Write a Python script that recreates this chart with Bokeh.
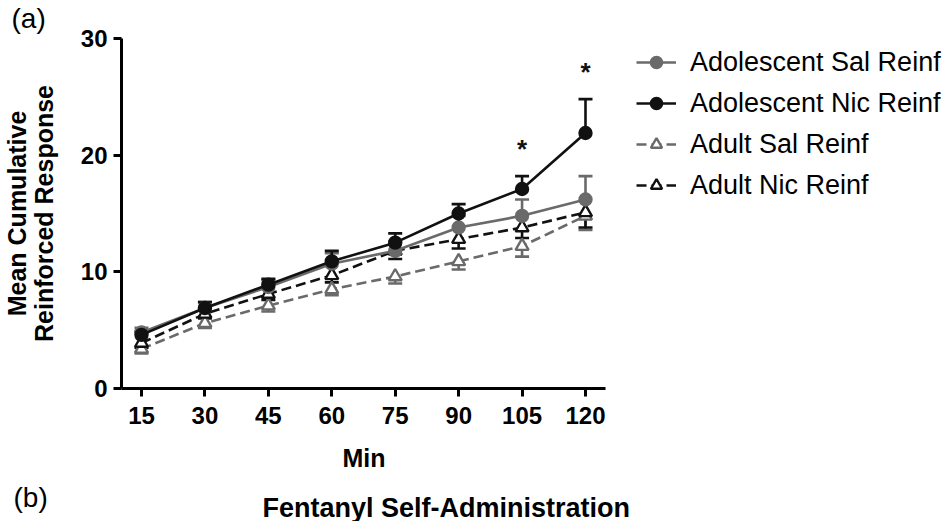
from bokeh.plotting import figure
from bokeh.models import (ColumnDataSource, Whisker, TeeHead, Legend, LegendItem,
                          FixedTicker, Range1d, Title)
from bokeh.core.properties import value
from bokeh.embed import file_html
from bokeh.resources import INLINE

# ---------------- data ----------------
minutes = [15, 30, 45, 60, 75, 90, 105, 120]
adol_sal = [4.8, 6.9, 8.7, 10.7, 11.8, 13.8, 14.8, 16.2]
adol_sal_err = [0.4, 0.5, 0.6, 0.9, 0.8, 1.0, 1.4, 2.0]
adol_nic = [4.6, 6.9, 8.9, 10.9, 12.5, 15.0, 17.1, 21.9]
adol_nic_err = [0.3, 0.5, 0.5, 0.9, 0.8, 0.8, 1.1, 2.9]
adult_sal = [3.4, 5.6, 7.1, 8.5, 9.6, 10.9, 12.2, 14.8]
adult_sal_err = [0.4, 0.4, 0.5, 0.5, 0.6, 0.7, 0.9, 1.2]
adult_nic = [3.9, 6.4, 8.1, 9.7, 11.8, 12.8, 13.8, 15.1]
adult_nic_err = [0.4, 0.4, 0.5, 0.6, 0.7, 0.8, 0.9, 1.3]
series_names = ["Adolescent Sal Reinf", "Adolescent Nic Reinf",
                "Adult Sal Reinf", "Adult Nic Reinf"]
y_ticks = [0, 10, 20, 30]
sig_minutes = [105, 120]
panel_labels = ["(a)", "(b)"]
x_title = "Min"
y_title = "Mean Cumulative\nReinforced Response"
subtitle = "Fentanyl Self-Administration"

FONT = "Liberation Sans"
GRAY = "#6a6a6a"
BLACK = "#111111"

W, H = 946, 521
FL, FR, FT, FB = 121, 946, 37, 388      # frame edges (px)
AX_END = 605                             # where the x axis line stops
X_START, X_AXIS_END = 10.27, 124.73
px_per_min = (AX_END - FL) / (X_AXIS_END - X_START)
X_END = X_START + (FR - FL) / px_per_min

p = figure(width=W, height=H, output_backend="svg", toolbar_location=None,
           x_range=Range1d(X_START, X_END), y_range=Range1d(0, 30),
           min_border_left=FL, min_border_right=W - FR,
           min_border_top=FT, min_border_bottom=H - FB)
p.outline_line_color = None
p.grid.visible = False
p.background_fill_color = "white"
p.border_fill_color = "white"

for ax in (p.xaxis[0], p.yaxis[0]):
    ax.axis_line_width = 3
    ax.axis_line_color = "black"
    ax.major_tick_line_width = 3
    ax.major_tick_line_color = "black"
    ax.major_tick_out = 8
    ax.major_tick_in = 0
    ax.minor_tick_line_color = None
    ax.major_label_text_font = FONT
    ax.major_label_text_font_style = "bold"
    ax.major_label_text_font_size = "24px"
    ax.major_label_text_color = "black"
    ax.axis_label_text_font = FONT
    ax.axis_label_text_font_style = "bold"
    ax.axis_label_text_font_size = "25px"
    ax.axis_label_text_color = "black"

p.xaxis.bounds = (X_START, X_AXIS_END)
p.xaxis.ticker = FixedTicker(ticks=minutes)
p.yaxis.ticker = FixedTicker(ticks=y_ticks)
p.xaxis.major_label_standoff = 10
p.yaxis.axis_label = y_title
p.yaxis.axis_label_text_line_height = 0.95
p.yaxis.major_label_standoff = 6
p.yaxis.axis_label_standoff = 20


def series(vals, errs, color, marker, dashed, up):
    src = ColumnDataSource(dict(
        x=minutes, y=vals,
        hi=[v + e for v, e in zip(vals, errs)] if up else vals,
        lo=vals if up else [v - e for v, e in zip(vals, errs)]))
    line = p.line("x", "y", source=src, line_color=color, line_width=2.6,
                  line_dash="10 5" if dashed else "solid")
    fill = "white" if marker == "triangle" else color
    sc = p.scatter("x", "y", source=src, marker=marker,
                   size=13 if marker == "triangle" else 12,
                   fill_color=fill, line_color=color, line_width=2.4)
    head = TeeHead(size=14, line_color=color, line_width=2.6)
    wh = Whisker(source=src, base="x", upper="hi", lower="lo",
                 line_color=color, line_width=2.6,
                 upper_head=head if up else None,
                 lower_head=None if up else head)
    p.add_layout(wh)
    return [line, sc]

r_as = series(adult_sal, adult_sal_err, GRAY, "triangle", True, False)
r_an = series(adult_nic, adult_nic_err, BLACK, "triangle", True, False)
r_ds = series(adol_sal, adol_sal_err, GRAY, "circle", False, True)
r_dn = series(adol_nic, adol_nic_err, BLACK, "circle", False, True)

# significance stars above Adolescent Nic error bars
idx = [minutes.index(m) for m in sig_minutes]
star_src = ColumnDataSource(dict(
    x=sig_minutes,
    y=[adol_nic[i] + adol_nic_err[i] + 2.3 for i in idx],
    t=["*"] * len(sig_minutes)))
p.text("x", "y", text="t", source=star_src, text_font=value(FONT),
       text_font_style="bold", text_font_size="26px", text_color=BLACK,
       text_align="center", text_baseline="middle")

# legend lives inside the (extended) frame, right of the axis end
LEG_H = 4 * 31 + 3 * 10
legend = Legend(items=[
    LegendItem(label=series_names[0], renderers=r_ds),
    LegendItem(label=series_names[1], renderers=r_dn),
    LegendItem(label=series_names[2], renderers=r_as),
    LegendItem(label=series_names[3], renderers=r_an),
], location=(636 - FL, FB - (46.5 + LEG_H)), border_line_color=None,
    background_fill_alpha=0, padding=0, margin=0, spacing=10,
    glyph_width=40, glyph_height=28, label_height=28, label_standoff=14,
    label_text_font=FONT, label_text_font_size="27px", label_text_color="black")
p.add_layout(legend)

p.add_layout(Title(text=panel_labels[0], align="left", offset=11 - FL,
                   vertical_align="top", standoff=5, text_font=FONT,
                   text_font_style="normal", text_font_size="28px",
                   text_color="black"), "above")

# rows under the x axis: axis title, then "(b)" and subtitle on one line
p.add_layout(Title(text=x_title, align="left", offset=342 - FL,
                   standoff=31, text_font=FONT, text_font_style="bold",
                   text_font_size="25px", text_color="black"), "below")
p.add_layout(Title(text=panel_labels[1], align="left", offset=13 - FL,
                   standoff=-15, text_font=FONT, text_font_style="normal",
                   text_font_size="28px", text_color="black"), "below")
p.add_layout(Title(text=subtitle, align="left", offset=262 - FL,
                   standoff=-30, text_font=FONT, text_font_style="bold",
                   text_font_size="27px", text_color="black"), "below")

open("out.html", "w").write(file_html(p, INLINE))
